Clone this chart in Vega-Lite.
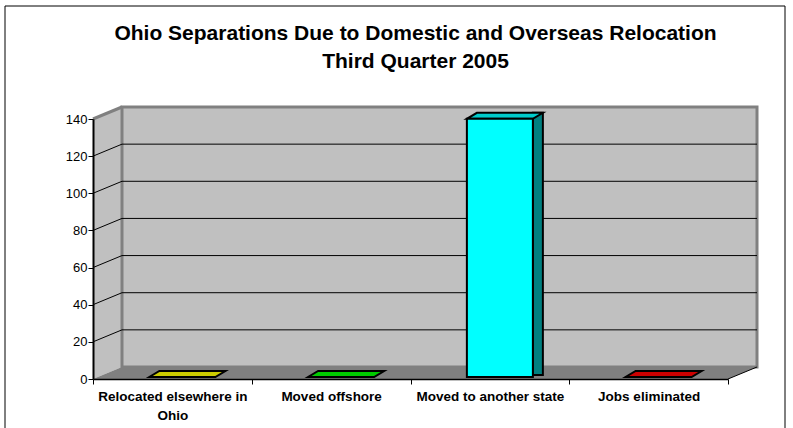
{
  "$schema": "https://vega.github.io/schema/vega-lite/v6.json",
  "width": 635,
  "height": 260,
  "autosize": "none",
  "padding": {"left": 93, "top": 119, "right": 65, "bottom": 49},
  "background": "white",
  "title": {
    "text": ["Ohio Separations Due to Domestic and Overseas Relocation", "Third Quarter 2005"],
    "font": "Liberation Sans",
    "fontSize": 21,
    "fontWeight": "bold",
    "lineHeight": 28,
    "color": "black",
    "anchor": "middle",
    "frame": "group",
    "dx": 5,
    "offset": -66
  },
  "config": {"view": {"stroke": null}},
  "datasets": {
    "bars": [
      {"category": "Relocated elsewhere in Ohio", "value": 0},
      {"category": "Moved offshore", "value": 0},
      {"category": "Moved to another state", "value": 139},
      {"category": "Jobs eliminated", "value": 0}
    ],
    "ticks": [{"v": 20}, {"v": 40}, {"v": 60}, {"v": 80}, {"v": 100}, {"v": 120}],
    "one": [{}]
  },
  "resolve": {"scale": {"fill": "independent"}, "axis": {"x": "independent", "y": "independent"}},
  "layer": [
    {
      "data": {"name": "one"},
      "mark": {"type": "rect", "fillOpacity": 0, "stroke": "black", "strokeWidth": 1, "xOffset": -88, "x2Offset": 57, "yOffset": -113, "y2Offset": 60},
      "encoding": {
        "x": {"datum": "Relocated elsewhere in Ohio", "type": "nominal", "bandPosition": 0, "axis": null,
          "scale": {"domain": ["Relocated elsewhere in Ohio", "Moved offshore", "Moved to another state", "Jobs eliminated"], "paddingInner": 0, "paddingOuter": 0}},
        "x2": {"datum": "Jobs eliminated", "bandPosition": 1},
        "y": {"datum": 140, "type": "quantitative", "axis": null, "scale": {"domain": [0, 140], "nice": false, "zero": true}},
        "y2": {"datum": 0}
      }
    },
    {
      "data": {"name": "one"},
      "mark": {"type": "point", "shape": "M0,0 L0,-260 L29,-272 L29,-12 Z", "size": 4, "filled": true, "opacity": 1, "fill": "#C0C0C0", "strokeWidth": 0},
      "encoding": {
        "x": {"datum": "Relocated elsewhere in Ohio", "type": "nominal", "bandPosition": 0, "axis": null},
        "y": {"datum": 0, "type": "quantitative", "axis": null}
      }
    },
    {
      "data": {"name": "one"},
      "mark": {"type": "rect", "fill": "#C0C0C0", "stroke": "#808080", "strokeWidth": 3, "xOffset": 29, "x2Offset": 29, "yOffset": -12, "y2Offset": -12},
      "encoding": {
        "x": {"datum": "Relocated elsewhere in Ohio", "type": "nominal", "bandPosition": 0, "axis": null},
        "x2": {"datum": "Jobs eliminated", "bandPosition": 1},
        "y": {"datum": 140, "type": "quantitative", "axis": null},
        "y2": {"datum": 0}
      }
    },
    {
      "data": {"name": "one"},
      "mark": {"type": "point", "shape": "M0,0 L635,0 L664,-12 L29,-12 Z", "size": 4, "filled": true, "opacity": 1, "fill": "#808080", "strokeWidth": 0},
      "encoding": {
        "x": {"datum": "Relocated elsewhere in Ohio", "type": "nominal", "bandPosition": 0, "axis": null},
        "y": {"datum": 0, "type": "quantitative", "axis": null}
      }
    },
    {
      "data": {"name": "ticks"},
      "mark": {"type": "rule", "color": "black", "strokeWidth": 1, "xOffset": 29, "x2Offset": 29, "yOffset": -12},
      "encoding": {
        "x": {"datum": "Relocated elsewhere in Ohio", "type": "nominal", "bandPosition": 0, "axis": null},
        "x2": {"datum": "Jobs eliminated", "bandPosition": 1},
        "y": {"field": "v", "type": "quantitative", "axis": null}
      }
    },
    {
      "data": {"name": "ticks"},
      "mark": {"type": "rule", "color": "black", "strokeWidth": 1, "x2Offset": 29, "y2Offset": -12},
      "encoding": {
        "x": {"datum": "Relocated elsewhere in Ohio", "type": "nominal", "bandPosition": 0, "axis": null},
        "x2": {"datum": "Relocated elsewhere in Ohio", "bandPosition": 0},
        "y": {"field": "v", "type": "quantitative", "axis": null},
        "y2": {"field": "v"}
      }
    },
    {
      "data": {"name": "one"},
      "mark": {"type": "rule", "color": "#808080", "strokeWidth": 3, "x2Offset": 29, "y2Offset": -12},
      "encoding": {
        "x": {"datum": "Relocated elsewhere in Ohio", "type": "nominal", "bandPosition": 0, "axis": null},
        "x2": {"datum": "Relocated elsewhere in Ohio", "bandPosition": 0},
        "y": {"datum": 140, "type": "quantitative", "axis": null},
        "y2": {"datum": 140}
      }
    },
    {
      "data": {"name": "one"},
      "mark": {"type": "rule", "color": "black", "strokeWidth": 1, "x2Offset": 29, "y2Offset": -12},
      "encoding": {
        "x": {"datum": "Jobs eliminated", "type": "nominal", "bandPosition": 1, "axis": null},
        "x2": {"datum": "Jobs eliminated", "bandPosition": 1},
        "y": {"datum": 0, "type": "quantitative", "axis": null},
        "y2": {"datum": 0}
      }
    },
    {
      "data": {"name": "bars"},
      "transform": [{"filter": "datum.value > 0"}],
      "mark": {"type": "bar", "width": 10, "xOffset": 48, "yOffset": -8, "y2Offset": -4, "stroke": "black", "strokeWidth": 2},
      "encoding": {
        "x": {"field": "category", "type": "nominal", "sort": null, "axis": null},
        "y": {"field": "value", "type": "quantitative", "axis": null},
        "y2": {"datum": 0},
        "fill": {"field": "category", "type": "nominal", "legend": null,
          "scale": {"domain": ["Relocated elsewhere in Ohio", "Moved offshore", "Moved to another state", "Jobs eliminated"], "range": ["#808000", "#008000", "#008080", "#800000"]}}
      }
    },
    {
      "data": {"name": "bars"},
      "mark": {"type": "point", "shape": "M-33,0 L33,0 L43,-6 L-23,-6 Z", "size": 4, "filled": true, "opacity": 1, "stroke": "black", "strokeWidth": 2, "xOffset": 10, "yOffset": -2},
      "encoding": {
        "x": {"field": "category", "type": "nominal", "sort": null, "axis": null},
        "y": {"field": "value", "type": "quantitative", "axis": null},
        "fill": {"field": "category", "type": "nominal", "legend": null,
          "scale": {"domain": ["Relocated elsewhere in Ohio", "Moved offshore", "Moved to another state", "Jobs eliminated"], "range": ["#CCCC00", "#00CC00", "#00CCCC", "#CC0000"]}}
      }
    },
    {
      "data": {"name": "bars"},
      "mark": {"type": "bar", "width": 66, "xOffset": 10, "yOffset": -2, "y2Offset": -2, "stroke": "black", "strokeWidth": 2, "opacity": 1},
      "encoding": {
        "x": {
          "field": "category", "type": "nominal", "sort": null,
          "scale": {"domain": ["Relocated elsewhere in Ohio", "Moved offshore", "Moved to another state", "Jobs eliminated"], "paddingInner": 0, "paddingOuter": 0},
          "axis": {
            "title": null, "orient": "bottom", "tickBand": "extent", "bandPosition": 0.5, "labelAngle": 0, "labelAlign": "center", "labelBaseline": "top", "zindex": 1,
            "domainColor": "black", "domainWidth": 1.5, "tickColor": "black", "tickSize": 5,
            "labelFont": "Liberation Sans", "labelFontSize": 13.5, "labelFontWeight": "bold", "labelColor": "black",
            "labelPadding": 5, "labelLineHeight": 19, "labelLimit": 250, "labelOverlap": false,
            "labelExpr": "datum.label == 'Relocated elsewhere in Ohio' ? ['Relocated elsewhere in', 'Ohio'] : datum.label"
          }
        },
        "y": {
          "field": "value", "type": "quantitative",
          "scale": {"domain": [0, 140], "nice": false, "zero": true},
          "axis": {
            "title": null, "orient": "left", "values": [0, 20, 40, 60, 80, 100, 120, 140], "grid": false, "zindex": 1,
            "domainColor": "black", "domainWidth": 2, "tickColor": "black", "tickSize": 5, "labelOverlap": false,
            "labelFont": "Liberation Sans", "labelFontSize": 13, "labelColor": "black", "labelPadding": 1
          }
        },
        "y2": {"datum": 0},
        "color": {"field": "category", "type": "nominal", "legend": null,
          "scale": {"domain": ["Relocated elsewhere in Ohio", "Moved offshore", "Moved to another state", "Jobs eliminated"], "range": ["#FFFF00", "#00FF00", "#00FFFF", "#FF0000"]}}
      }
    }
  ]
}
